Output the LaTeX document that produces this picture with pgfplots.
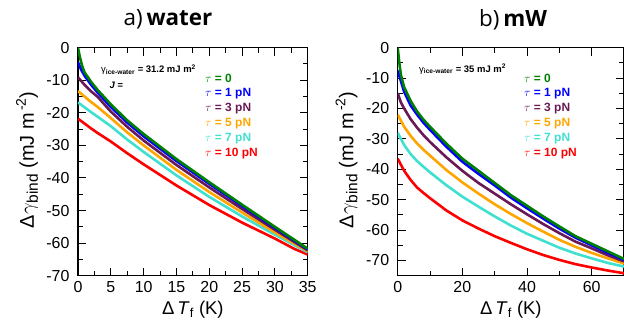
\documentclass[border=0pt]{standalone}
\usepackage{pgfplots}
\pgfplotsset{compat=1.18}
\usepackage{fontspec}
\setmainfont{Liberation Sans}
\newfontfamily\titlefont{Open Sans}
\definecolor{cgreen}{RGB}{0,128,0}
\definecolor{cblue}{RGB}{0,0,255}
\definecolor{cpurple}{RGB}{105,25,85}
\definecolor{corange}{RGB}{255,165,0}
\definecolor{ccyan}{RGB}{64,224,208}
\definecolor{cred}{RGB}{255,0,0}
\pgfplotsset{
  myaxis/.style={
    scale only axis, height=228bp,
    axis line style={line width=1.2bp},
    every tick/.style={line width=1bp, black},
    major tick length=8bp, minor tick length=5bp,
    tick align=inside,
    ticklabel style={font=\fontsize{16}{19}\selectfont},
    xticklabel style={yshift=-2bp},
    yticklabel style={xshift=-5bp},
    clip mode=individual,
    every axis plot/.append style={line width=2.6bp},
  },
}
\tikzset{leg/.style={anchor=west, inner sep=0pt, font=\bfseries\fontsize{12}{14}\selectfont}}
\newcommand{\ylab}{Δ$\gamma${\fontsize{15.5}{16}\selectfont\raisebox{-4bp}{bind}} (mJ m{\fontsize{14}{15}\selectfont\raisebox{8bp}{\,-2}})}
\begin{document}
\begin{tikzpicture}
\path[use as bounding box] (-78bp,-48.3bp) rectangle (546bp,275.7bp);
% ---------- panel a ----------
\begin{axis}[myaxis, width=229.7bp, at={(0,0)}, anchor=south west,
  xmin=0, xmax=35, ymin=-70, ymax=0,
  xtick={0,5,10,15,20,25,30,35}, xticklabels={0,5,10,15,20,25,30,35},
  minor x tick num=1,
  ytick={-70,-60,-50,-40,-30,-20,-10,0},
  yticklabels={-70,-60,-50,-40,-30,-20,-10,0},
  minor y tick num=1]
\addplot[cred] coordinates {(0,-21.8) (1,-23.3) (2,-24.8) (3,-26.2) (5,-28.8) (7.5,-32.4) (10,-35.8) (15,-42.3) (20,-48.3) (25,-53.7) (30,-58.6) (33,-61.8) (35,-63.5)};
\addplot[ccyan] coordinates {(0,-16.8) (1,-18.3) (2,-19.8) (3,-21.2) (5,-24.1) (7.5,-28.2) (10,-32) (15,-39.2) (20,-45.8) (25,-51.8) (30,-57.4) (35,-62.8)};
\addplot[corange] coordinates {(0,-13.3) (1,-15) (2,-16.7) (3,-18.2) (5,-21.6) (7.5,-26) (10,-30) (15,-37.5) (20,-44.3) (25,-50.6) (30,-56.7) (35,-62.5)};
\addplot[cpurple] coordinates {(0,-9.1) (1,-11.4) (2,-13.4) (3,-15.1) (5,-19.6) (7.5,-24.3) (10,-28.5) (15,-36) (20,-42.9) (25,-49.5) (30,-55.9) (35,-62.2)};
\addplot[cblue] coordinates {(0,-4.5) (0.5,-6.8) (1,-8.6) (2,-11.4) (3,-13.8) (5,-18.2) (7.5,-23) (10,-27.2) (15,-34.8) (20,-41.8) (25,-48.6) (30,-55.3) (35,-61.9)};
\addplot[cgreen] coordinates {(0,0) (0.3,-3) (0.6,-5.4) (1,-7.6) (2,-10.5) (3,-13) (5,-17.4) (7.5,-22.3) (10,-26.5) (15,-34.2) (20,-41.3) (25,-48.2) (30,-55) (35,-61.7)};
\node[anchor=base, font=\titlefont\fontsize{22.5}{26}\selectfont] at ([yshift=21.7bp]rel axis cs:0.392,1) {a)\,\textbf{water}};
\node[anchor=base, font=\fontsize{18.5}{22}\selectfont] at ([yshift=-38.3bp]rel axis cs:0.5,0) {Δ\,\textit{T}\textsubscript{f} (K)};
\node[anchor=center, rotate=90, font=\fontsize{20}{22}\selectfont] at ([xshift=-51bp]rel axis cs:0,0.507) {\ylab};
\node[anchor=base west, font=\fontsize{9.5}{11}\selectfont] at ([xshift=19.7bp, yshift=-25.3bp]rel axis cs:0,1) {γ\textsubscript{\textbf{ice-water}} \textbf{= 31.2 mJ m\textsuperscript{2}}};
\node[anchor=base west, font=\bfseries\itshape\fontsize{9.5}{11}\selectfont] at ([xshift=28bp, yshift=-41.3bp]rel axis cs:0,1) {J =};
\node[leg, text=cgreen] at ([xshift=127bp, yshift=-30.3bp]rel axis cs:0,1) {$\tau$ = 0};
\node[leg, text=cblue] at ([xshift=127bp, yshift=-45.5bp]rel axis cs:0,1) {$\tau$ = 1 pN};
\node[leg, text=cpurple] at ([xshift=127bp, yshift=-60.7bp]rel axis cs:0,1) {$\tau$ = 3 pN};
\node[leg, text=corange] at ([xshift=127bp, yshift=-75.9bp]rel axis cs:0,1) {$\tau$ = 5 pN};
\node[leg, text=ccyan] at ([xshift=127bp, yshift=-91.1bp]rel axis cs:0,1) {$\tau$ = 7 pN};
\node[leg, text=cred] at ([xshift=127bp, yshift=-106.3bp]rel axis cs:0,1) {$\tau$ = 10 pN};
\end{axis}
% ---------- panel b ----------
\begin{axis}[myaxis, width=226.3bp, at={(319.7bp,0)}, anchor=south west,
  xmin=0, xmax=70, ymin=-75, ymax=0,
  xtick={0,20,40,60}, xticklabels={0,20,40,60},
  minor x tick num=1,
  ytick={-70,-60,-50,-40,-30,-20,-10,0},
  yticklabels={-70,-60,-50,-40,-30,-20,-10,0},
  minor y tick num=1]
\addplot[cred] coordinates {(0,-36.5) (1,-38.5) (2,-40.5) (4,-43.5) (6,-46) (8,-47.8) (10,-49.5) (15,-53.5) (20,-56.8) (25,-59.5) (30,-62) (35,-64.2) (40,-66.3) (45,-68.2) (50,-69.8) (55,-71.2) (60,-72.3) (65,-73.3) (70,-74.2)};
\addplot[ccyan] coordinates {(0,-28) (1,-30) (2,-32) (4,-35) (6,-37.3) (8,-39.2) (10,-41) (15,-45.2) (20,-49) (25,-52.3) (30,-55.5) (35,-58.5) (40,-61.2) (45,-63.5) (50,-65.8) (55,-67.7) (60,-69.3) (65,-70.8) (70,-72)};
\addplot[corange] coordinates {(0,-22) (1,-24) (2,-26) (4,-29) (6,-31.5) (8,-33.6) (10,-35.5) (15,-40.2) (20,-44.3) (25,-48) (30,-51.5) (35,-54.7) (40,-57.7) (45,-60.5) (50,-63.2) (55,-65.5) (60,-67.5) (65,-69.3) (70,-71)};
\addplot[cpurple] coordinates {(0,-15) (1,-18) (2,-20) (4,-23.5) (6,-26.3) (8,-28.8) (10,-31) (15,-36) (20,-40.5) (25,-44.5) (30,-48) (35,-51.5) (40,-54.8) (45,-58) (50,-61) (55,-63.8) (60,-66) (65,-68.3) (70,-70.3)};
\addplot[cblue] coordinates {(0,-7.5) (1,-11) (2,-14.5) (4,-19) (6,-22) (8,-24.7) (10,-27) (15,-32.5) (20,-37.5) (25,-41.5) (30,-45.3) (35,-49.3) (40,-52.8) (45,-56.2) (50,-59.5) (55,-62.5) (60,-65) (65,-67.5) (70,-69.8)};
\addplot[cgreen] coordinates {(0,0) (0.5,-5) (1,-9) (2,-13) (4,-17.5) (6,-21) (8,-23.7) (10,-26) (15,-31.5) (20,-36.5) (25,-40.5) (30,-44.5) (35,-48.5) (40,-52) (45,-55.5) (50,-58.8) (55,-62) (60,-64.5) (65,-67) (70,-69.5)};
\node[anchor=base, font=\titlefont\fontsize{22.5}{26}\selectfont] at ([yshift=21.7bp]rel axis cs:0.51,1) {b)\,\textbf{mW}};
\node[anchor=base, font=\fontsize{18.5}{22}\selectfont] at ([yshift=-38.3bp]rel axis cs:0.5,0) {Δ\,\textit{T}\textsubscript{f} (K)};
\node[anchor=center, rotate=90, font=\fontsize{20}{22}\selectfont] at ([xshift=-51bp]rel axis cs:0,0.507) {\ylab};
\node[anchor=base west, font=\fontsize{9.5}{11}\selectfont] at ([xshift=18bp, yshift=-24.3bp]rel axis cs:0,1) {γ\textsubscript{\textbf{ice-water}} \textbf{= 35 mJ m\textsuperscript{2}}};
\node[leg, text=cgreen] at ([xshift=126.3bp, yshift=-30.3bp]rel axis cs:0,1) {$\tau$ = 0};
\node[leg, text=cblue] at ([xshift=126.3bp, yshift=-45.5bp]rel axis cs:0,1) {$\tau$ = 1 pN};
\node[leg, text=cpurple] at ([xshift=126.3bp, yshift=-60.7bp]rel axis cs:0,1) {$\tau$ = 3 pN};
\node[leg, text=corange] at ([xshift=126.3bp, yshift=-75.9bp]rel axis cs:0,1) {$\tau$ = 5 pN};
\node[leg, text=ccyan] at ([xshift=126.3bp, yshift=-91.1bp]rel axis cs:0,1) {$\tau$ = 7 pN};
\node[leg, text=cred] at ([xshift=126.3bp, yshift=-106.3bp]rel axis cs:0,1) {$\tau$ = 10 pN};
\end{axis}
\end{tikzpicture}
\end{document}
